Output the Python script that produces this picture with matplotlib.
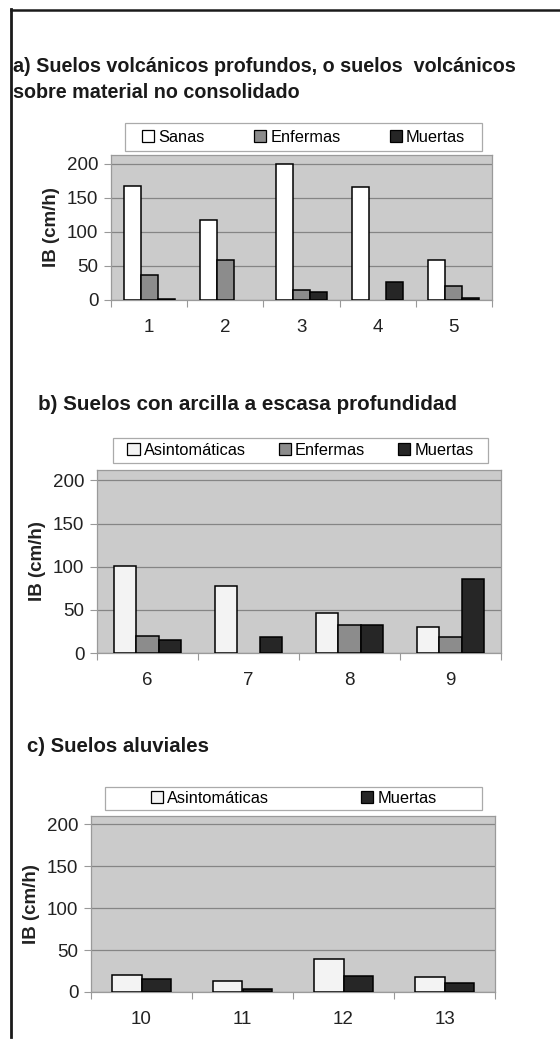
import matplotlib
matplotlib.use("Agg")
import matplotlib.pyplot as plt
import numpy as np
from matplotlib.patches import Patch, Rectangle
from matplotlib.lines import Line2D

plt.rcParams['font.family'] = ['Liberation Sans', 'DejaVu Sans']

W, H = 560, 1039

# panel a
cats_a = ['1', '2', '3', '4', '5']
sanas_a = [167, 118, 200, 166, 59]
enfermas_a = [36, 59, 15, 0, 20]
muertas_a = [2, 0, 12, 26, 3]

# panel b
cats_b = ['6', '7', '8', '9']
asint_b = [101, 78, 46, 30]
enfermas_b = [20, 0, 32, 19]
muertas_b = [15, 18, 33, 86]

# panel c
cats_c = ['10', '11', '12', '13']
asint_c = [20, 13, 39, 18]
muertas_c = [16, 4, 19, 11]

BG = '#cbcbcb'
GRID = '#858585'
C_WHITE = '#ffffff'
C_LIGHT = '#f3f3f3'
C_GRAY = '#8c8c8c'
C_DARK = '#262626'


def rect(x0, x1, ytop, ybot):
    return [x0 / W, 1 - ybot / H, (x1 - x0) / W, (ybot - ytop) / H]


def panel(fig, box, cats, series, colors, labels, width, ymax, legbox, colsp):
    ax = fig.add_axes(rect(*box))
    ax.set_facecolor(BG)
    n = len(cats)
    x = np.arange(n)
    k = len(series)
    offs = (np.arange(k) - (k - 1) / 2) * width
    for vals, col, off in zip(series, colors, offs):
        v = np.array(vals, dtype=float)
        m = v > 0
        ax.bar(x[m] + off, v[m], width=width, color=col, edgecolor='black',
               linewidth=1.1, zorder=3)
    ax.set_xlim(-0.5, n - 0.5)
    ax.set_ylim(0, ymax)
    ax.set_yticks([0, 50, 100, 150, 200])
    ax.yaxis.grid(True, color=GRID, linewidth=0.9, zorder=0)
    ax.set_axisbelow(True)
    ax.set_xticks(np.arange(n + 1) - 0.5)
    ax.set_xticklabels([])
    ax.set_xticks(x, minor=True)
    ax.set_xticklabels(cats, minor=True)
    ax.tick_params(axis='x', which='major', length=5, color='#999999', width=0.8)
    ax.tick_params(axis='x', which='minor', length=0, pad=14, labelsize=13.5,
                   labelcolor='#222222')
    ax.tick_params(axis='y', length=5, color='#999999', width=0.8, pad=4,
                   labelsize=13.5, labelcolor='#222222')
    for s in ax.spines.values():
        s.set_color('#9a9a9a')
        s.set_linewidth(0.9)
    ax.set_ylabel('IB (cm/h)', fontweight='bold', fontsize=13.5, labelpad=5,
                  color='#222222')
    # legend box
    lx0, lx1, ly0, ly1 = legbox
    fig.add_artist(Rectangle((lx0 / W, 1 - ly1 / H), (lx1 - lx0) / W, (ly1 - ly0) / H,
                             transform=fig.transFigure, facecolor='white',
                             edgecolor='#aaaaaa', linewidth=0.9))
    handles = [Patch(facecolor=c, edgecolor='black', linewidth=0.9) for c in colors]
    fig.legend(handles, labels, loc='center', ncol=len(labels),
               bbox_to_anchor=((lx0 + lx1) / 2 / W, 1 - (ly0 + ly1) / 2 / H),
               frameon=False, borderaxespad=0, handlelength=0.75,
               handleheight=0.75, handletextpad=0.25, fontsize=11.8,
               columnspacing=colsp, borderpad=0)
    return ax


fig = plt.figure(figsize=(W / 100, H / 100), dpi=100)

fig.text(13 / W, 1 - 67 / H, 'a) Suelos volcánicos profundos, o suelos  volcánicos',
         fontweight='bold', fontsize=14.2, va='center', color='#1a1a1a')
fig.text(13 / W, 1 - 93 / H, 'sobre material no consolidado',
         fontweight='bold', fontsize=14.2, va='center', color='#1a1a1a')
panel(fig, (111, 492, 155, 300), cats_a, [sanas_a, enfermas_a, muertas_a],
      [C_WHITE, C_GRAY, C_DARK], ['Sanas', 'Enfermas', 'Muertas'],
      0.223, 213, (125, 482, 123, 151), 3.0)

fig.text(38 / W, 1 - 404 / H, 'b) Suelos con arcilla a escasa profundidad',
         fontweight='bold', fontsize=14.9, va='center', color='#1a1a1a')
panel(fig, (97, 501, 470, 653), cats_b, [asint_b, enfermas_b, muertas_b],
      [C_LIGHT, C_GRAY, C_DARK], ['Asintomáticas', 'Enfermas', 'Muertas'],
      0.22, 212, (113, 488, 438, 463), 2.0)

fig.text(27 / W, 1 - 747 / H, 'c) Suelos aluviales',
         fontweight='bold', fontsize=14.7, va='center', color='#1a1a1a')
panel(fig, (91, 495, 816, 992), cats_c, [asint_c, muertas_c],
      [C_LIGHT, C_DARK], ['Asintomáticas', 'Muertas'],
      0.29, 210, (105, 482, 787, 810), 5.6)

# outer frame (left and top edges)
fig.add_artist(Line2D([10.5 / W, 10.5 / W], [1 - 9 / H, 1 - 1037 / H],
                      color='#1a1a1a', linewidth=2.0))
fig.add_artist(Line2D([10.5 / W, 1.0], [1 - 9.5 / H, 1 - 9.5 / H],
                      color='#1a1a1a', linewidth=1.8))

fig.savefig('out.png', dpi=100, facecolor='white')
